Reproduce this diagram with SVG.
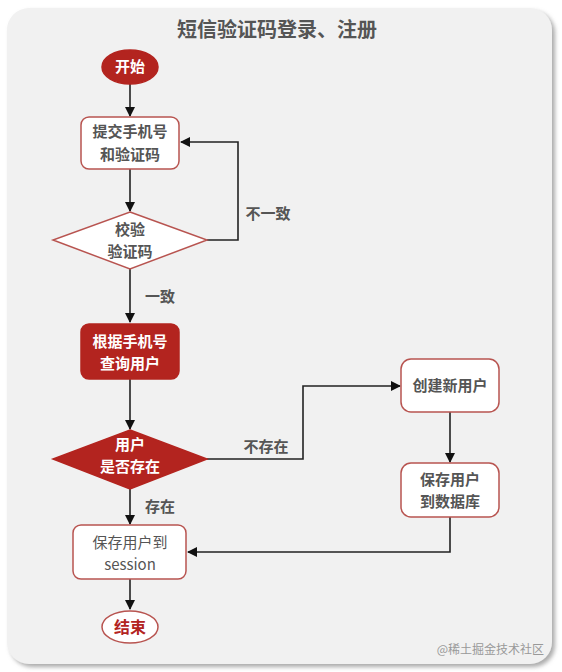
<svg xmlns="http://www.w3.org/2000/svg" width="562" height="672" viewBox="0 0 562 672">
<defs>
<marker id="arr" markerWidth="10" markerHeight="10" refX="9" refY="5" orient="auto" markerUnits="userSpaceOnUse">
<path d="M0,0 L10,5 L0,10 Z" fill="#111"/>
</marker>
<filter id="sh" x="-5%" y="-5%" width="110%" height="110%">
<feDropShadow dx="3" dy="3" stdDeviation="2" flood-color="#888" flood-opacity="0.7"/>
</filter>
</defs>
<style>
.t{font-family:"Noto Sans CJK SC","Liberation Sans",sans-serif;font-weight:bold;font-size:15px;fill:#555;text-anchor:middle}
.w{fill:#fff}
.box{fill:#fff;stroke:#b85450;stroke-width:1.5}
.red{fill:#b3241f;stroke:#b3241f;stroke-width:1.5}
.ln{fill:none;stroke:#222;stroke-width:1.6}
.lbl{font-family:"Noto Sans CJK SC","Liberation Sans",sans-serif;font-weight:bold;font-size:15px;fill:#555;text-anchor:middle}
</style>
<rect width="562" height="672" fill="#fff"/>
<rect x="7" y="8" width="545" height="656" rx="22" fill="#f1f1f1" filter="url(#sh)"/>
<text x="277" y="37" class="t" style="font-size:20px">短信验证码登录、注册</text>

<g id="connectors">
<path class="ln" d="M130,84 V116" marker-end="url(#arr)"/>
<path class="ln" d="M130,169 V211" marker-end="url(#arr)"/>
<path class="ln" d="M207,240 H238 V142 H181" marker-end="url(#arr)"/>
<path class="ln" d="M130,269 V322" marker-end="url(#arr)"/>
<path class="ln" d="M130,379 V429" marker-end="url(#arr)"/>
<path class="ln" d="M207,459 H303 V386 H400" marker-end="url(#arr)"/>
<path class="ln" d="M450,412 V462" marker-end="url(#arr)"/>
<path class="ln" d="M450,517 V552 H188" marker-end="url(#arr)"/>
<path class="ln" d="M130,489 V524" marker-end="url(#arr)"/>
<path class="ln" d="M130,579 V609" marker-end="url(#arr)"/>
<text x="268" y="219" class="lbl">不一致</text>
<text x="160" y="302" class="lbl">一致</text>
<text x="266" y="452" class="lbl">不存在</text>
<text x="160" y="512" class="lbl">存在</text>
</g>

<g id="start">
<ellipse cx="130" cy="67" rx="28" ry="17" class="red"/>
<text x="130" y="72" class="t w">开始</text>
</g>
<g id="submit">
<rect x="81" y="117" width="98" height="52" rx="8" class="box"/>
<text x="130" y="137" class="t">提交手机号</text>
<text x="130" y="160" class="t">和验证码</text>
</g>
<g id="verify">
<path d="M130,212 L207,240 L130,269 L53,240 Z" class="box"/>
<text x="130" y="235" class="t">校验</text>
<text x="130" y="257" class="t">验证码</text>
</g>
<g id="query">
<rect x="81" y="324" width="98" height="55" rx="8" class="red"/>
<text x="130" y="347" class="t w">根据手机号</text>
<text x="130" y="369" class="t w">查询用户</text>
</g>
<g id="exists">
<path d="M130,430 L207,459 L130,489 L53,459 Z" class="red"/>
<text x="130" y="450" class="t w">用户</text>
<text x="130" y="472" class="t w">是否存在</text>
</g>
<g id="create">
<rect x="401" y="359" width="98" height="53" rx="10" class="box"/>
<text x="450" y="391" class="t">创建新用户</text>
</g>
<g id="savedb">
<rect x="401" y="463" width="98" height="54" rx="10" class="box"/>
<text x="450" y="485" class="t">保存用户</text>
<text x="450" y="507" class="t">到数据库</text>
</g>
<g id="session">
<rect x="73" y="525" width="113" height="54" rx="8" class="box"/>
<text x="130" y="548" class="t" style="font-weight:normal;font-size:15px">保存用户到</text>
<text x="130" y="570" class="t" style="font-weight:normal;font-size:15px">session</text>
</g>
<g id="end">
<ellipse cx="130" cy="627" rx="28" ry="16" class="box"/>
<text x="130" y="633" class="t" style="fill:#b3241f;font-size:16px">结束</text>
</g>
<text x="544" y="654" style="font-family:'Noto Sans CJK SC',sans-serif;font-size:12px;fill:#999;text-anchor:end">@稀土掘金技术社区</text>
</svg>
